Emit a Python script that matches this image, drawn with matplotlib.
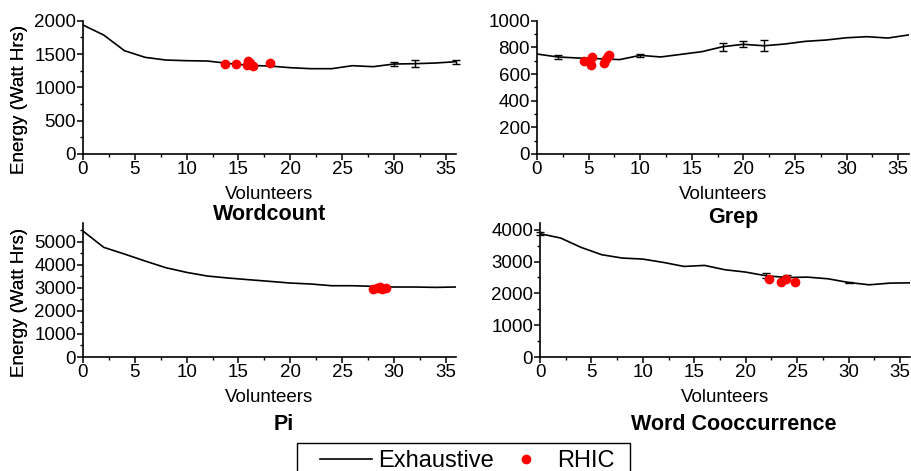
import matplotlib
matplotlib.use("Agg")
import matplotlib.pyplot as plt
from matplotlib.ticker import MultipleLocator
from matplotlib.lines import Line2D
from matplotlib.patches import Rectangle

plt.rcParams['font.family'] = ['Liberation Sans', 'DejaVu Sans']

# ---------- Data ----------
volunteers = [0, 2, 4, 6, 8, 10, 12, 14, 16, 18, 20, 22, 24, 26, 28, 30, 32, 34, 36]

wc_energy = [1935, 1785, 1550, 1450, 1410, 1400, 1395, 1360, 1330, 1320,
             1295, 1280, 1280, 1325, 1310, 1350, 1355, 1365, 1385]
wc_err = [0, 0, 0, 0, 0, 0, 0, 0, 0, 0, 0, 0, 0, 0, 0, 30, 55, 0, 30]
wc_rhic_x = [13.7, 14.8, 15.9, 15.8, 16.1, 16.4, 18.0]
wc_rhic_y = [1355, 1350, 1400, 1335, 1365, 1320, 1360]

grep_energy = [750, 728, 720, 715, 708, 740, 728, 748, 768, 805,
               823, 812, 825, 845, 855, 872, 880, 870, 893]
grep_err = [0, 16, 0, 0, 0, 12, 0, 0, 0, 30, 22, 40, 0, 0, 0, 0, 0, 0, 0]
grep_rhic_x = [4.6, 5.0, 5.3, 5.2, 6.5, 6.7, 6.9, 7.0]
grep_rhic_y = [700, 695, 730, 668, 685, 710, 735, 740]

pi_energy = [5464, 4757, 4467, 4163, 3873, 3671, 3512, 3426, 3353, 3282,
             3209, 3166, 3092, 3092, 3065, 3036, 3036, 3020, 3036]
pi_err = [0] * 19
pi_rhic_x = [28.0, 28.4, 28.7, 28.9, 29.2]
pi_rhic_y = [2960, 2990, 3020, 2970, 2980]

co_energy = [3874, 3738, 3443, 3213, 3108, 3076, 2971, 2845, 2877, 2740,
             2667, 2551, 2498, 2509, 2457, 2341, 2268, 2320, 2330]
co_err = [50, 0, 0, 0, 0, 0, 0, 0, 0, 0, 0, 75, 70, 0, 0, 30, 0, 0, 0]
co_rhic_x = [22.3, 23.4, 23.9, 24.8]
co_rhic_y = [2447, 2362, 2457, 2362]

W, H = 911, 471
fig = plt.figure(figsize=(W / 100, H / 100), dpi=100)


def make_axes(left, right, top, bottom):
    return fig.add_axes([left / W, 1 - bottom / H, (right - left) / W, (bottom - top) / H])


panels = [
    # energy, err, rhic x, rhic y, ylim, major, minor, box(l, r, t, b), title, title pos
    (wc_energy, wc_err, wc_rhic_x, wc_rhic_y, 2000, 500, 250, (83, 456, 20.7, 154), "Wordcount", (270, 215)),
    (grep_energy, grep_err, grep_rhic_x, grep_rhic_y, 1000, 200, 100, (537, 908.5, 20.7, 154), "Grep", (733, 217)),
    (pi_energy, pi_err, pi_rhic_x, pi_rhic_y, 5800, 1000, 500, (83, 456, 223.3, 357), "Pi", (284, 425)),
    (co_energy, co_err, co_rhic_x, co_rhic_y, 4200, 1000, 500, (540, 910.3, 223.3, 357), "Word Cooccurrence", (734, 424)),
]

for energy, err, rx, ry, ytop, major, minor, box, title, tpos in panels:
    l, r, t, b = box
    ax = make_axes(l, r, t, b)
    ax.plot(volunteers, energy, color='black', lw=1.2, zorder=2)
    # error bars only where there is a spread
    ex = [v for v, e in zip(volunteers, err) if e > 0]
    ey = [y for y, e in zip(energy, err) if e > 0]
    ee = [e for e in err if e > 0]
    if ex:
        ax.errorbar(ex, ey, yerr=ee, fmt='none', ecolor='black', capsize=3,
                    elinewidth=1, capthick=1, zorder=2, clip_on=False)
    ax.plot(rx, ry, 'o', color='red', markersize=7, markeredgewidth=0, zorder=3, clip_on=False)

    ax.set_xlim(0, 36)
    ax.set_ylim(0, ytop)
    ax.xaxis.set_major_locator(MultipleLocator(5))
    ax.xaxis.set_minor_locator(MultipleLocator(2.5))
    ax.yaxis.set_major_locator(MultipleLocator(major))
    ax.yaxis.set_minor_locator(MultipleLocator(minor))
    ax.spines['top'].set_visible(False)
    ax.spines['right'].set_visible(False)
    for s in ('left', 'bottom'):
        ax.spines[s].set_linewidth(1.2)
    ax.tick_params(which='major', direction='out', length=4, width=1.1, labelsize=13.5, pad=1)
    ax.tick_params(which='minor', direction='out', length=2.5, width=1.0)

    ax.set_xlabel("Volunteers", fontsize=13.5)
    ax.xaxis.set_label_coords(0.5, -32 / (b - t))
    ax.set_ylabel("Energy (Watt Hrs)", fontsize=13.5)
    ax.yaxis.set_label_coords((28 - l) / (r - l), 0.41)

    fig.text(tpos[0] / W, 1 - tpos[1] / H, title, fontsize=15.5, fontweight='bold',
             ha='center', va='center')

# legend box runs off the bottom edge, like the original
fig.patches.append(Rectangle((297 / W, -0.05), 333 / W, 0.05 + 1 - 443 / H,
                             transform=fig.transFigure, fill=False,
                             edgecolor='black', linewidth=1.0))

handles = [Line2D([], [], color='black', lw=1.2),
           Line2D([], [], ls='none', marker='o', color='red', markersize=7, markeredgewidth=0)]
leg = fig.legend(handles, ["Exhaustive", "RHIC"], loc='upper left',
                 bbox_to_anchor=(313 / W, 1 - 443 / H), ncol=2, fontsize=17,
                 frameon=False, handlelength=2.2, columnspacing=0.25,
                 borderpad=0.3, borderaxespad=0, handletextpad=0.25)

fig.savefig("out.png", dpi=100)
